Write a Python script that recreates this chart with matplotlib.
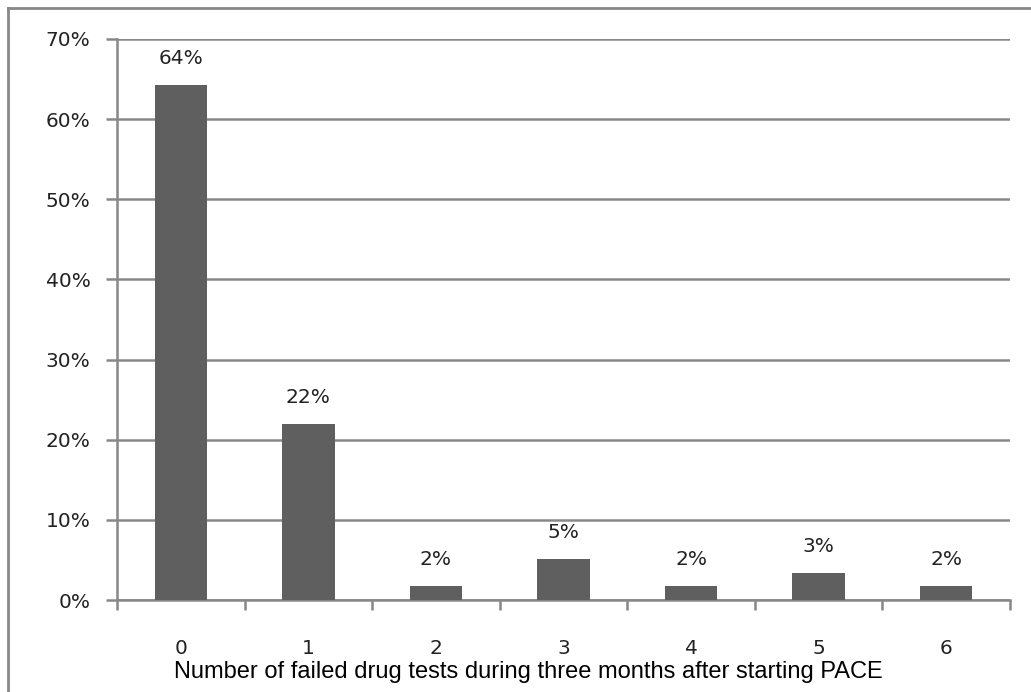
import matplotlib.pyplot as plt
from matplotlib.lines import Line2D
import numpy as np

# share of participants by number of failed tests (n = 59)
failed_tests = ['0', '1', '2', '3', '4', '5', '6']
pct = [64.3, 22.0, 1.7, 5.1, 1.7, 3.4, 1.7]
y_ticks = [0, 10, 20, 30, 40, 50, 60, 70]

grey = '#888888'
bar_col = '#5f5f5f'
txt = '#222222'
fs = 14.5

fig = plt.figure(figsize=(10.31, 6.92), dpi=100)
ax = fig.add_axes([117/1031, 1 - 600/692, (1010 - 117)/1031, (600 - 39)/692])

x = np.arange(len(failed_tests))
bars = ax.bar(x, pct, width=0.41, color=bar_col, zorder=3)

for b, v in zip(bars, pct):
    ax.annotate(f'{v:.0f}%', (b.get_x() + b.get_width()/2, v),
                xytext=(0, 21), textcoords='offset pixels',
                ha='center', va='baseline', fontsize=fs, color=txt)

ax.set_xlim(-0.5, len(failed_tests) - 0.5)
ax.set_ylim(0, 70)
ax.set_yticks(y_ticks)
ax.set_yticklabels([f'{t}%' for t in y_ticks])
ax.yaxis.grid(True, color=grey, linewidth=1.8, zorder=0)
ax.set_axisbelow(True)

ax.set_xticks(x)
ax.set_xticklabels(failed_tests)
ax.set_xticks(np.arange(-0.5, len(failed_tests)), minor=True)
ax.tick_params(axis='x', which='major', length=0, pad=28, labelsize=fs, labelcolor=txt)
ax.tick_params(axis='x', which='minor', length=7, width=1.8, color=grey, direction='out')
ax.tick_params(axis='y', length=8, width=1.8, color=grey, pad=11, labelsize=fs, labelcolor=txt)

for side in ['top', 'right']:
    ax.spines[side].set_visible(False)
for side in ['left', 'bottom']:
    ax.spines[side].set_color(grey)
    ax.spines[side].set_linewidth(1.8)

fig.text(528/1031, 1 - 672/692,
         'Number of failed drug tests during three months after starting PACE',
         ha='center', va='center', fontsize=17, family='Liberation Sans')

# outer frame (top and left edges only)
fig.add_artist(Line2D([8/1031, 1], [1 - 8/692, 1 - 8/692], color=grey, linewidth=2,
                      transform=fig.transFigure))
fig.add_artist(Line2D([8/1031, 8/1031], [0, 1 - 8/692], color=grey, linewidth=2,
                      transform=fig.transFigure))

fig.savefig('out.png', dpi=100)
